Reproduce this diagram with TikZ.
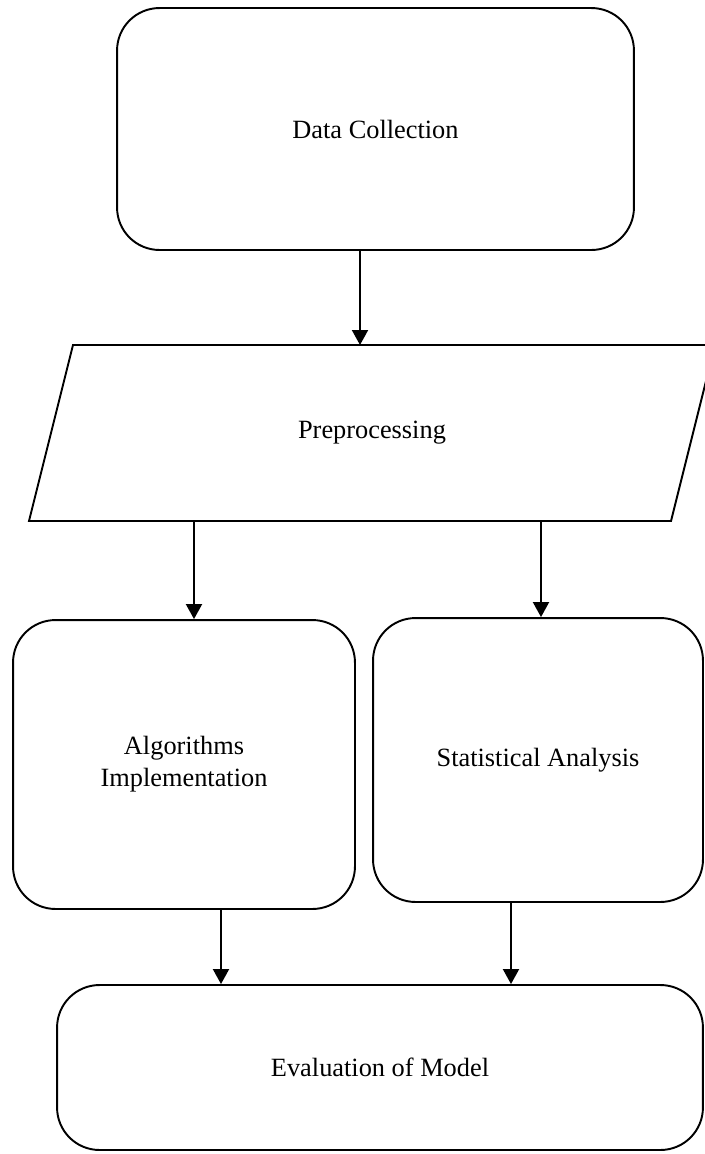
\documentclass[tikz,border=0pt]{standalone}
\usepackage{fontspec}
\setmainfont{Liberation Serif}
\usetikzlibrary{arrows.meta}

\begin{document}
\begin{tikzpicture}[x=0.02cm, y=-0.02cm, >={Triangle[width=0.32cm, length=0.3cm]},
    line width=1.1pt, font=\fontsize{15}{18.2}\selectfont,
    roundbox/.style={draw, rounded corners=0.85cm, align=center, inner sep=0pt},
    arr/.style={->, line width=1.1pt}]
    \useasboundingbox (0,0) rectangle (704,1154);
    % Boxes
    \node[roundbox, minimum width=10.34cm, minimum height=4.84cm] (collect) at (375.5,129) {Data Collection};
    % Parallelogram, runs past the right edge
    \coordinate (prepTop) at (0,345);
    \coordinate (prepBot) at (0,521);
    \draw (29,521) -- (73,345) -- (715,345) -- (671,521) -- cycle;
    \node (prep) at (372,433) {Preprocessing};
    \node[roundbox, minimum width=6.84cm, minimum height=5.78cm] (algo) at (184,764.5) {Algorithms\\Implementation};
    \node[roundbox, minimum width=6.6cm, minimum height=5.68cm] (stats) at (538,760) {Statistical Analysis};
    \node[roundbox, minimum width=12.92cm, minimum height=3.3cm] (evalm) at (380,1067.5) {Evaluation of Model};
    % Connectors
    \draw[arr] (collect.south -| 360,0) -- (prepTop -| 360,0);
    \draw[arr] (prepBot -| 194,0) -- (algo.north -| 194,0);
    \draw[arr] (prepBot -| 541,0) -- (stats.north -| 541,0);
    \draw[arr] (algo.south -| 221,0) -- (evalm.north -| 221,0);
    \draw[arr] (stats.south -| 511,0) -- (evalm.north -| 511,0);
\end{tikzpicture}
\end{document}
